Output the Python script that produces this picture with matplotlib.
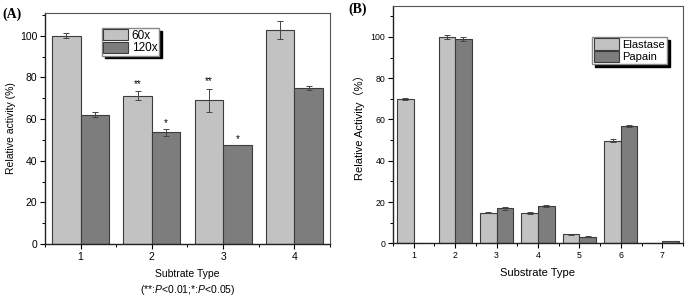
import matplotlib
matplotlib.use('Agg')
import matplotlib.pyplot as plt
import numpy as np
from matplotlib.ticker import MultipleLocator

plt.rcParams['font.family'] = ['Liberation Sans', 'DejaVu Sans']
plt.rcParams['mathtext.fontset'] = 'custom'
plt.rcParams['mathtext.rm'] = 'Liberation Sans'
plt.rcParams['mathtext.it'] = 'Liberation Sans:italic'

# panel A data
types_a = [1, 2, 3, 4]
x60 = [100, 71.3, 69, 103]
x60_err = [1.2, 2.2, 5.7, 4.3]
x120 = [62, 53.6, 47.6, 75]
x120_err = [1.2, 1.6, 0, 1.1]
stars_60 = ['', '**', '**', '']
stars_120 = ['', '*', '*', '']

# panel B data
types_b = [1, 2, 3, 4, 5, 6, 7]
elastase = [69.8, 100, 14.8, 14.7, 4.3, 49.8, 0]
elastase_err = [0.6, 1.0, 0.2, 0.4, 0.2, 0.7, 0]
papain = [0, 98.9, 17.0, 18.0, 3.2, 56.8, 1.1]
papain_err = [0, 1.0, 0.6, 0.5, 0.2, 0.5, 0.1]

light = '#c2c2c2'
dark = '#7d7d7d'
edge = '#3c3c3c'
w = 0.4

fig = plt.figure(figsize=(6.85, 2.95), dpi=100)
ax1 = fig.add_axes([0.0657, 0.173, 0.416, 0.783])
ax2 = fig.add_axes([0.5737, 0.175, 0.4234, 0.805])


def style_axis(ax, fs):
    ax.tick_params(axis='both', which='major', direction='out', length=3.5,
                   width=0.8, labelsize=fs, pad=2)
    ax.tick_params(axis='both', which='minor', direction='out', length=2, width=0.7)
    ax.tick_params(top=False, right=False, which='both')
    for s in ['top', 'right']:
        ax.spines[s].set_color('#555555')
        ax.spines[s].set_linewidth(0.8)
    for s in ['left', 'bottom']:
        ax.spines[s].set_color('#222222')
        ax.spines[s].set_linewidth(1.0)
    ax.yaxis.set_major_locator(MultipleLocator(20))
    ax.yaxis.set_minor_locator(MultipleLocator(10))
    ax.xaxis.set_minor_locator(MultipleLocator(0.5))


# ---- panel A ----
xa = np.array(types_a)
ek = dict(ecolor='#444444', elinewidth=0.7, capthick=0.7)
ax1.bar(xa - w / 2, x60, w, color=light, edgecolor=edge, linewidth=0.8,
        yerr=x60_err, capsize=2, error_kw=ek, label='60x')
ax1.bar(xa + w / 2, x120, w, color=dark, edgecolor=edge, linewidth=0.8,
        yerr=x120_err, capsize=2, error_kw=ek, label='120x')
for xi, v, e, s in zip(xa - w / 2, x60, x60_err, stars_60):
    if s:
        ax1.text(xi, v + e + 1, s, ha='center', va='bottom', fontsize=7)
for xi, v, e, s in zip(xa + w / 2, x120, x120_err, stars_120):
    if s:
        ax1.text(xi, v + e + 0.6, s, ha='center', va='bottom', fontsize=7)
ax1.set_xlim(0.5, 4.5)
ax1.set_ylim(0, 111)
ax1.set_xticks(types_a)
style_axis(ax1, 7.5)
ax1.set_ylabel('Relative activity (%)', fontsize=7.5, labelpad=3)
ax1.set_xlabel('Subtrate Type\n(**:$\\it{P}$<0.01;*:$\\it{P}$<0.05)', fontsize=7.5,
               labelpad=5, linespacing=1.4)
ax1.legend(loc='upper left', bbox_to_anchor=(0.2, 0.935), fontsize=8.5,
           frameon=True, fancybox=False, edgecolor='#888888', framealpha=1,
           shadow={'color': 'black', 'alpha': 1}, borderpad=0.12,
           labelspacing=0.02, handlelength=2.1, handleheight=1.0,
           handletextpad=0.3, borderaxespad=0)

# ---- panel B ----
xb = np.array(types_b)
ax2.bar(xb - w / 2, elastase, w, color=light, edgecolor=edge, linewidth=0.8,
        yerr=elastase_err, capsize=2, error_kw=ek, label='Elastase')
ax2.bar(xb + w / 2, papain, w, color=dark, edgecolor=edge, linewidth=0.8,
        yerr=papain_err, capsize=2, error_kw=ek, label='Papain')
ax2.set_xlim(0.5, 7.5)
ax2.set_ylim(0, 115)
ax2.set_xticks(types_b)
style_axis(ax2, 6.3)
ax2.set_ylabel('Relative Activity（%）', fontsize=8, labelpad=4,
               family=['Liberation Sans', 'Noto Sans CJK SC'])
ax2.set_xlabel('Substrate Type', fontsize=8, labelpad=6)
ax2.legend(loc='upper left', bbox_to_anchor=(0.686, 0.87), fontsize=8,
           frameon=True, fancybox=False, edgecolor='#888888', framealpha=1,
           shadow={'color': 'black', 'alpha': 1}, borderpad=0.15,
           labelspacing=0.1, handlelength=2.3, handleheight=1.2,
           handletextpad=0.3, borderaxespad=0)

fig.text(0.003, 0.975, '(A)', fontsize=10, fontweight='bold',
         family='Liberation Serif', va='top', ha='left')
fig.text(0.508, 0.99, '(B)', fontsize=10, fontweight='bold',
         family='Liberation Serif', va='top', ha='left')

fig.savefig('out.png', dpi=100)
